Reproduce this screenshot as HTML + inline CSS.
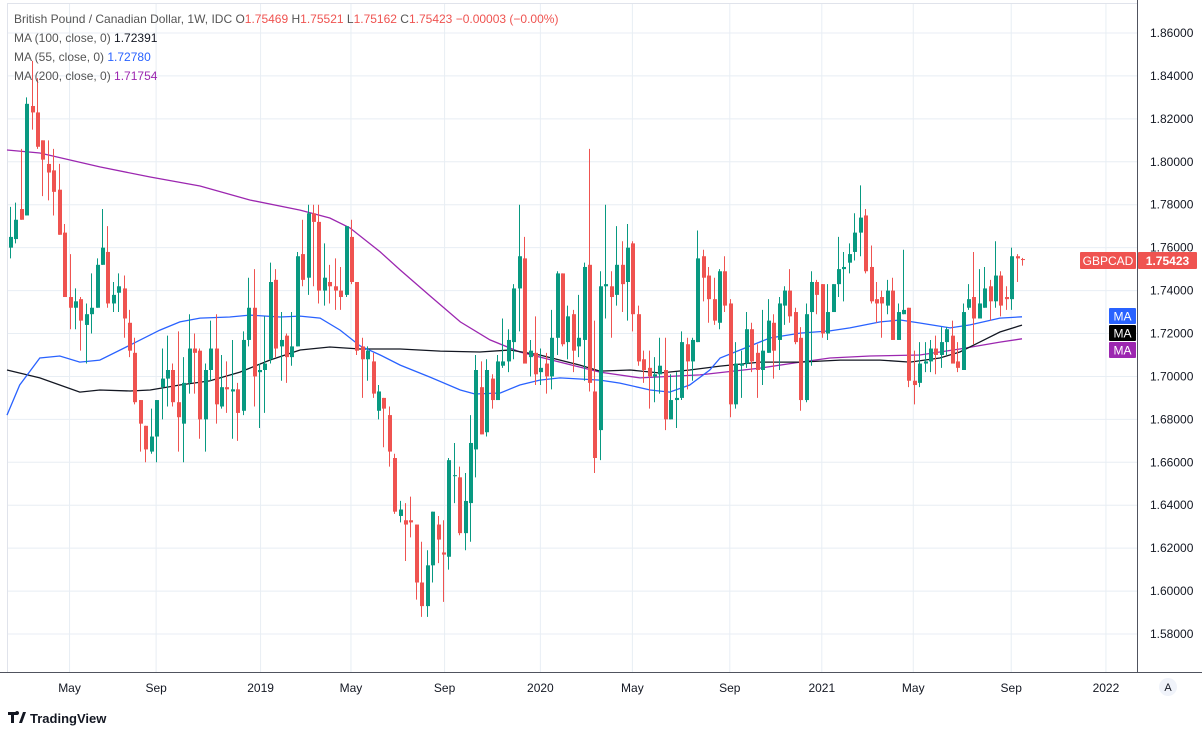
<!DOCTYPE html>
<html><head><meta charset="utf-8"><style>
body{margin:0;background:#fff;font-family:"Liberation Sans",sans-serif;}
#wrap{position:relative;width:1202px;height:732px;overflow:hidden;background:#fff}
svg text{font-family:"Liberation Sans",sans-serif}
</style></head><body>
<div id="wrap">
<svg id="chart" width="1202" height="732"></svg>
</div>
<script>
const opens=[1.760,1.764,1.778,1.775,1.826,1.823,1.810,1.799,1.796,1.787,1.767,1.737,1.732,1.736,1.724,1.729,1.732,1.752,1.758,1.734,1.739,1.741,1.725,1.711,1.689,1.677,1.665,1.672,1.695,1.699,1.703,1.688,1.678,1.697,1.713,1.712,1.680,1.703,1.713,1.686,1.695,1.693,1.694,1.684,1.717,1.732,1.702,1.703,1.708,1.745,1.714,1.719,1.709,1.714,1.757,1.746,1.776,1.772,1.740,1.744,1.742,1.740,1.738,1.765,1.744,1.714,1.708,1.707,1.684,1.690,1.682,1.662,1.635,1.633,1.633,1.631,1.604,1.593,1.612,1.631,1.618,1.616,1.654,1.653,1.627,1.641,1.666,1.695,1.674,1.699,1.689,1.705,1.707,1.716,1.741,1.755,1.709,1.711,1.702,1.706,1.700,1.718,1.748,1.716,1.729,1.714,1.717,1.752,1.693,1.675,1.742,1.742,1.738,1.752,1.744,1.762,1.729,1.708,1.704,1.700,1.701,1.703,1.680,1.689,1.690,1.715,1.707,1.716,1.756,1.747,1.736,1.725,1.749,1.734,1.687,1.705,1.706,1.722,1.711,1.703,1.711,1.725,1.717,1.733,1.740,1.730,1.718,1.689,1.730,1.744,1.743,1.720,1.730,1.743,1.750,1.753,1.758,1.767,1.775,1.751,1.736,1.737,1.733,1.740,1.717,1.729,1.732,1.698,1.697,1.706,1.707,1.713,1.710,1.716,1.719,1.707,1.703,1.732,1.737,1.727,1.732,1.742,1.735,1.747,1.737,1.736,1.756,1.75469];
const highs=[1.779,1.781,1.806,1.830,1.847,1.839,1.810,1.810,1.806,1.799,1.771,1.757,1.741,1.737,1.734,1.748,1.755,1.778,1.770,1.744,1.748,1.747,1.731,1.718,1.689,1.677,1.685,1.689,1.713,1.719,1.706,1.721,1.709,1.729,1.720,1.713,1.706,1.726,1.729,1.710,1.707,1.717,1.697,1.721,1.746,1.750,1.706,1.728,1.753,1.750,1.730,1.720,1.730,1.758,1.773,1.780,1.780,1.780,1.762,1.752,1.755,1.751,1.770,1.773,1.744,1.718,1.714,1.711,1.696,1.690,1.686,1.664,1.642,1.641,1.644,1.631,1.623,1.619,1.637,1.635,1.633,1.662,1.669,1.658,1.655,1.682,1.710,1.707,1.708,1.701,1.710,1.727,1.722,1.743,1.780,1.765,1.717,1.728,1.713,1.711,1.731,1.749,1.748,1.733,1.731,1.738,1.753,1.806,1.726,1.749,1.780,1.749,1.770,1.763,1.771,1.763,1.733,1.712,1.712,1.709,1.718,1.718,1.701,1.702,1.721,1.718,1.718,1.768,1.759,1.751,1.746,1.750,1.756,1.736,1.716,1.712,1.730,1.725,1.715,1.731,1.736,1.729,1.737,1.742,1.750,1.732,1.723,1.734,1.749,1.745,1.743,1.743,1.743,1.765,1.758,1.762,1.776,1.789,1.778,1.761,1.744,1.740,1.745,1.746,1.734,1.759,1.732,1.712,1.716,1.716,1.717,1.719,1.723,1.723,1.726,1.716,1.734,1.743,1.758,1.750,1.751,1.745,1.763,1.749,1.742,1.760,1.757,1.75521];
const lows=[1.755,1.762,1.773,1.775,1.815,1.806,1.784,1.782,1.775,1.766,1.737,1.722,1.722,1.712,1.706,1.720,1.732,1.752,1.732,1.730,1.730,1.718,1.709,1.687,1.665,1.660,1.664,1.660,1.680,1.686,1.686,1.665,1.660,1.692,1.692,1.671,1.665,1.698,1.678,1.685,1.683,1.671,1.670,1.682,1.714,1.686,1.676,1.683,1.706,1.709,1.698,1.697,1.705,1.714,1.742,1.738,1.742,1.734,1.733,1.734,1.731,1.731,1.737,1.743,1.710,1.690,1.698,1.690,1.680,1.667,1.658,1.636,1.632,1.614,1.625,1.596,1.588,1.588,1.604,1.613,1.595,1.610,1.641,1.626,1.619,1.623,1.653,1.673,1.672,1.685,1.689,1.704,1.702,1.708,1.721,1.706,1.700,1.696,1.696,1.692,1.694,1.710,1.714,1.708,1.702,1.709,1.698,1.693,1.655,1.661,1.727,1.718,1.733,1.730,1.726,1.721,1.705,1.697,1.685,1.688,1.692,1.675,1.680,1.676,1.689,1.694,1.698,1.716,1.735,1.725,1.724,1.722,1.730,1.681,1.685,1.690,1.704,1.702,1.690,1.696,1.711,1.699,1.703,1.724,1.725,1.715,1.684,1.688,1.705,1.729,1.718,1.717,1.730,1.737,1.735,1.748,1.754,1.756,1.748,1.734,1.725,1.718,1.729,1.717,1.717,1.729,1.695,1.687,1.695,1.702,1.702,1.701,1.704,1.710,1.706,1.702,1.703,1.731,1.715,1.727,1.732,1.726,1.732,1.728,1.731,1.731,1.744,1.75162];
const closes=[1.765,1.773,1.773,1.827,1.823,1.807,1.801,1.795,1.786,1.766,1.737,1.732,1.735,1.726,1.729,1.732,1.752,1.760,1.734,1.738,1.742,1.727,1.712,1.688,1.678,1.666,1.672,1.689,1.699,1.703,1.688,1.681,1.697,1.713,1.711,1.680,1.703,1.713,1.687,1.695,1.694,1.694,1.683,1.717,1.732,1.700,1.703,1.706,1.744,1.713,1.717,1.709,1.714,1.756,1.745,1.776,1.772,1.740,1.746,1.742,1.740,1.737,1.770,1.744,1.712,1.708,1.712,1.692,1.693,1.685,1.665,1.637,1.638,1.631,1.632,1.604,1.593,1.612,1.637,1.624,1.617,1.661,1.654,1.627,1.642,1.669,1.703,1.673,1.703,1.689,1.707,1.707,1.717,1.741,1.756,1.706,1.712,1.701,1.704,1.700,1.718,1.748,1.715,1.728,1.712,1.718,1.751,1.697,1.662,1.742,1.743,1.737,1.752,1.743,1.760,1.729,1.707,1.703,1.700,1.701,1.705,1.680,1.689,1.690,1.716,1.707,1.717,1.755,1.746,1.736,1.726,1.749,1.733,1.687,1.706,1.706,1.722,1.707,1.703,1.712,1.726,1.712,1.734,1.740,1.728,1.716,1.689,1.729,1.744,1.738,1.720,1.730,1.743,1.750,1.751,1.757,1.767,1.774,1.749,1.735,1.734,1.734,1.740,1.717,1.730,1.731,1.698,1.696,1.706,1.707,1.713,1.710,1.716,1.722,1.706,1.704,1.730,1.736,1.727,1.734,1.741,1.735,1.747,1.733,1.736,1.756,1.755,1.75423];
const ma200Idx=[-1.8,5.5,16.6,25.9,35.1,44.3,53.6,59.1,62.8,68.4,72.1,77.6,83.2,88.7,94.2,101.6,109,116.4,127.5,138.6,146,151.5,158.9,168.1,175.5,182.9,187];
const ma200Val=[1.8055,1.8041,1.7976,1.7929,1.7887,1.7822,1.7775,1.7738,1.7692,1.7580,1.7496,1.7375,1.7254,1.7170,1.7114,1.7067,1.7020,1.6993,1.7007,1.7039,1.7067,1.7086,1.7095,1.7100,1.7128,1.7160,1.71754];
const ma55Idx=[-1.8,1.8,5.5,9.2,12.9,16.6,22.2,27.7,31.4,35.1,40.6,44.3,49.9,53.6,57.3,61,64.7,68.4,72.1,77.6,83.2,85.9,90.6,94.2,97.9,101.6,109,112.7,118.3,121.9,125.6,129.3,131.2,134.9,140.4,146,151.5,155.2,160.8,164.5,168.1,173.7,177.4,182.9,187];
const ma55Val=[1.6820,1.6960,1.7086,1.7095,1.7067,1.7076,1.7146,1.7216,1.7254,1.7272,1.7277,1.7286,1.7277,1.7281,1.7272,1.7216,1.7142,1.7100,1.7053,1.6997,1.6937,1.6918,1.6923,1.6960,1.6983,1.6993,1.6983,1.6969,1.6937,1.6927,1.6960,1.7030,1.7086,1.7123,1.7179,1.7202,1.7212,1.7226,1.7254,1.7263,1.7249,1.7226,1.7240,1.7272,1.72780];
const ma100Idx=[-1.8,5.5,9.2,12.9,16.6,22.2,25.9,31.4,36.9,42.5,48,53.6,59.1,64.7,72.1,79.5,86.8,92.4,97.9,105.3,109,114.6,120.1,125.6,131.2,138.6,146,153.4,160.8,166.3,171.8,175.5,179.2,182.9,187];
const ma100Val=[1.7030,1.6993,1.6960,1.6927,1.6937,1.6932,1.6937,1.6960,1.6979,1.7020,1.7076,1.7123,1.7137,1.7128,1.7128,1.7118,1.7114,1.7123,1.7100,1.7053,1.7025,1.7030,1.7016,1.7030,1.7048,1.7067,1.7067,1.7076,1.7076,1.7067,1.7086,1.7114,1.7160,1.7207,1.72391];
const yTicks=[1.86,1.84,1.82,1.80,1.78,1.76,1.74,1.72,1.70,1.68,1.66,1.64,1.62,1.60,1.58];
const xTickLabels=["May","Sep","2019","May","Sep","2020","May","Sep","2021","May","Sep","2022"];
const xTickIdx=[11,27,46.3,63,80.3,98,115,133,150,166.9,185,202.5];

const NS="http://www.w3.org/2000/svg";
const svg=document.getElementById('chart');
const PL=7,PR=1137,PT=3,PB=672;
const x=i=>10+i*5.412;
const y=p=>33+(1.86-p)/0.02*42.93;
function el(tag,attrs,parent){const e=document.createElementNS(NS,tag);for(const k in attrs)e.setAttribute(k,attrs[k]);(parent||svg).appendChild(e);return e;}

const grid=el('g',{});


yTicks.forEach(v=>{const l=el('line',{x1:PL,x2:PR,y1:y(v),y2:y(v),stroke:'#e8eef4','stroke-width':1},grid);

});
xTickIdx.forEach(i=>{const l=el('line',{x1:x(i),x2:x(i),y1:PT,y2:PB,stroke:'#e8eef4','stroke-width':1},grid);

});
const fr=el('rect',{x:PL+0.5,y:PT+0.5,width:PR-PL,height:PB-PT,fill:'none',stroke:'#e0e3eb'});



function maLine(idx,val,color,name){
  const d=idx.map((i,k)=>(k?'L':'M')+Math.max(PL,x(i)).toFixed(1)+' '+y(val[k]).toFixed(1)).join(' ');
  const p=el('path',{d:d,fill:'none',stroke:color,'stroke-width':1.3});
  
  
}
maLine(ma200Idx,ma200Val,'#9c27b0','ma-200-line');
maLine(ma100Idx,ma100Val,'#131722','ma-100-line');
maLine(ma55Idx,ma55Val,'#2962ff','ma-55-line');

const cg=el('g',{});


closes.forEach((c,i)=>{
  const o=opens[i],up=c>=o,col=up?'#089981':'#ef5350',cx=Math.round(x(i));
  const w=el('line',{x1:cx+0.5,x2:cx+0.5,y1:y(highs[i]),y2:y(lows[i]),stroke:col,'stroke-width':1},cg);
  
  
  const top=y(Math.max(o,c)),h=Math.max(1,Math.abs(y(o)-y(c)));
  const b=el('rect',{x:cx-1,y:top,width:4,height:h,fill:col},cg);
  
  
});

const ax=el('line',{x1:PR+0.5,x2:PR+0.5,y1:0,y2:PB,stroke:'#50535e'});


const bx=el('line',{x1:0,x2:1202,y1:PB+0.5,y2:PB+0.5,stroke:'#50535e'});


yTicks.forEach(v=>{const t=el('text',{x:1150,y:y(v)+4,'font-size':12,fill:'#131722'});t.textContent=v.toFixed(5);

});
xTickLabels.forEach((s,k)=>{const t=el('text',{x:x(xTickIdx[k]),y:692,'font-size':12,fill:'#131722','text-anchor':'middle'});t.textContent=s;

});

function tag(xx,yy,w,h,fill,txt,name,col,bold){
  const g=el('g',{});
  
  
  el('rect',{x:xx,y:yy,width:w,height:h,fill:fill,rx:1},g);
  const t=el('text',{x:xx+w/2,y:yy+h/2+4.5,'font-size':12,fill:col,'text-anchor':'middle','font-weight':bold?'bold':'normal'},g);t.textContent=txt;
}
const last=closes[closes.length-1];
tag(1080,y(last)-8,56,17,'#ef5350','GBPCAD','symbol-tag','#fff');
tag(1138,y(last)-8,59,17,'#ef5350',last.toFixed(5),'last-price-tag','#fff',true);
tag(1109,308,27,16,'#2962ff','MA','ma-55-tag','#fff');
tag(1109,325,27,16,'#000','MA','ma-100-tag','#fff');
tag(1109,342,27,16,'#9c27b0','MA','ma-200-tag','#fff');

function txt(xx,yy,parts,name){const t=el('text',{x:xx,y:yy,'font-size':12});


parts.forEach(p=>{const s=el('tspan',{fill:p[1]},t);s.textContent=p[0];});}
txt(14,23,[['British Pound / Canadian Dollar, 1W, IDC  O','#555'],['1.75469','#ef5350'],['  H','#555'],['1.75521','#ef5350'],['  L','#555'],['1.75162','#ef5350'],['  C','#555'],['1.75423','#ef5350'],['  −0.00003 (−0.00%)','#ef5350']],'symbol-header');
txt(14,42,[['MA (100, close, 0)  ','#555'],['1.72391','#131722']],'ma-100-legend');
txt(14,61,[['MA (55, close, 0)  ','#555'],['1.72780','#2962ff']],'ma-55-legend');
txt(14,80,[['MA (200, close, 0)  ','#555'],['1.71754','#9c27b0']],'ma-200-legend');

const ab=el('g',{});


el('circle',{cx:1168,cy:687,r:9,fill:'#f0f3fa'},ab);
const at=el('text',{x:1168,y:691,'font-size':11,fill:'#131722','text-anchor':'middle'},ab);at.textContent='A';

const lg=el('g',{});


el('path',{d:'M8 712 h9 v3 h-3 v8 h-3 v-8 h-3z M19 723 l4 -11 h3 l-4 11z M17 715 a2 2 0 1 1 0.1 0',fill:'#131722'},lg);
const lt=el('text',{x:30,y:723,'font-size':13,fill:'#131722','font-weight':'bold'},lg);lt.textContent='TradingView';
</script>
</body></html>
